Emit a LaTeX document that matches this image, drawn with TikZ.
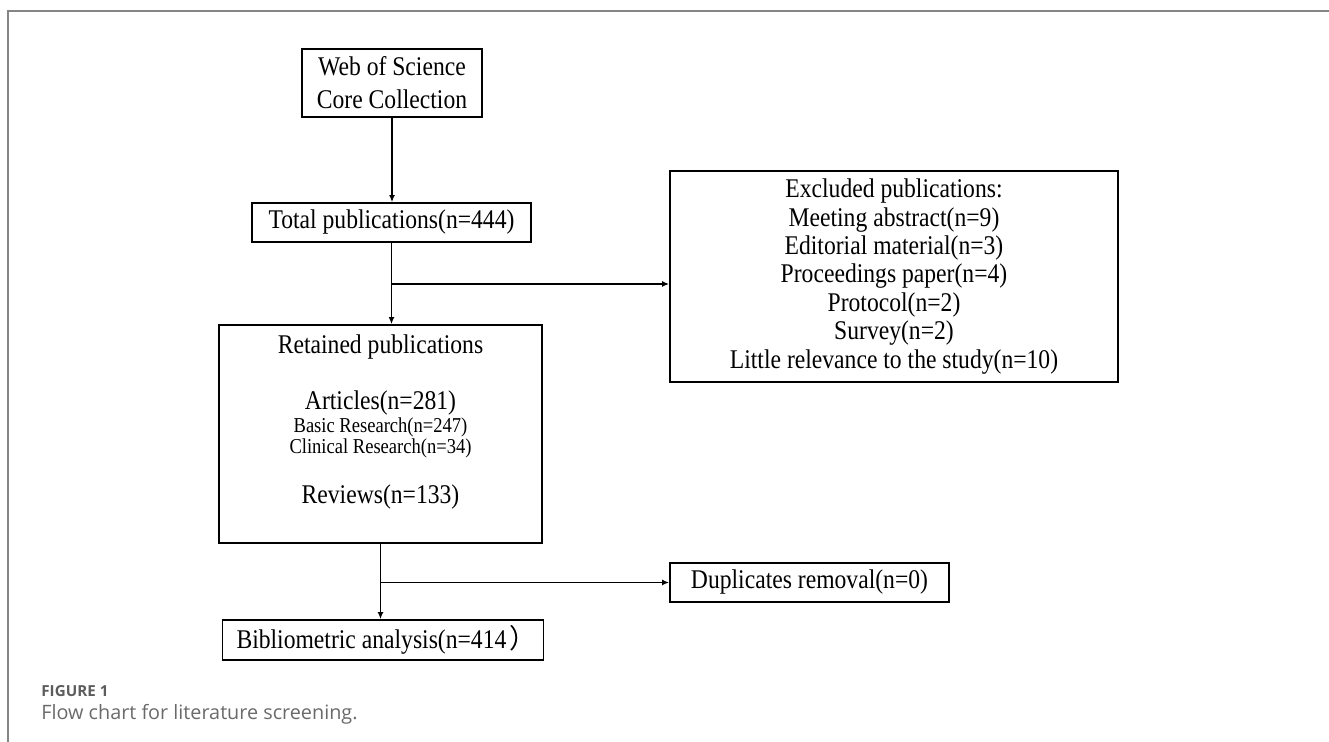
\documentclass[tikz,border=0pt]{standalone}
\usepackage{fontspec}
\usetikzlibrary{arrows.meta,positioning}
\setmainfont{Liberation Serif}[FakeStretch=0.875]
\newfontfamily\capfont{Open Sans}
\newfontfamily\cjk{Noto Sans CJK TC}
\definecolor{capgray}{HTML}{5C5C5C}
\definecolor{captextgray}{HTML}{6A6A6A}
\definecolor{framegray}{HTML}{858585}

\tikzset{
  pubbox/.style={draw, line width=0.9pt, inner sep=0pt, align=center, font=\fontsize{13.5}{14.2}\selectfont},
  pubtext/.style={inner sep=0pt, font=\fontsize{13.5}{14.2}\selectfont},
  subtext/.style={inner sep=0pt, font=\fontsize{10.6}{11}\selectfont},
  captext/.style={anchor=base west, inner sep=0pt},
}

\begin{document}
\begin{tikzpicture}[x=0.5pt, y=-0.5pt]
\useasboundingbox (0,0) rectangle (1329,742);
\draw[framegray, line width=1pt] (7.5,742) -- (7.5,11) -- (1329,11);

\node[pubbox, minimum width=90pt, minimum height=34pt, font=\fontsize{13.5}{16.5}\selectfont] (WS) at (392,83) {Web of Science\\Core Collection};
\node[pubbox, minimum width=139.5pt, minimum height=19.5pt] (TP) at (391.5,222.5) {Total publications(n=444)};
\node[pubbox, minimum width=224pt, minimum height=105.5pt] (EP) at (894,276.5) {Excluded publications:\\Meeting abstract(n=9)\\Editorial material(n=3)\\Proceedings paper(n=4)\\Protocol(n=2)\\Survey(n=2)\\Little relevance to the study(n=10)};
%============
\node[pubbox, minimum width=161.5pt, minimum height=109pt] (RP) at (380.5,434) {};
\node[pubtext] (RT) at (380.5,347) {Retained publications};
\node[pubtext] (RA) at (380.5,403) {Articles(n=281)};
\node[subtext] (RB) at (380.5,427) {Basic Research(n=247)};
\node[subtext] (RC) at (380.5,448) {Clinical Research(n=34)};
\node[pubtext] (RR) at (380.5,497) {Reviews(n=133)};
%============
\node[pubbox, minimum width=139.5pt, minimum height=19.5pt] (DR) at (809.5,582.5) {Duplicates removal(n=0)};
\node[pubbox, inner xsep=7pt, minimum height=20pt] (BA) at (383,640) {\makebox[146.5pt][l]{Bibliometric analysis(n=414{\cjk\kern1.5pt ）}}};

\coordinate (J1) at (TP.south |- 0,284);
\coordinate (J2) at (RP.south |- DR.west);

            \draw[->, line width=0.9pt, >={Latex[length=3.5pt,width=3pt]}] (WS.south) -- (WS.south |- TP.north);
            \draw[->, line width=0.9pt, >={Latex[length=3.5pt,width=3pt]}] (TP.south) -- (TP.south |- RP.north);
            \draw[->, line width=0.9pt, >={Latex[length=3.5pt,width=3pt]}] (J1) -- (J1 -| EP.west);
            \draw[->, line width=0.9pt, >={Latex[length=3.5pt,width=3pt]}] (RP.south) -- (RP.south |- BA.north);
            \draw[->, line width=0.9pt, >={Latex[length=3.5pt,width=3pt]}] (J2) -- (DR.west);

\node[captext, text=capgray, font=\capfont\bfseries\fontsize{7.6}{8}\selectfont] (F1) at (41,697) {FIGURE 1};
\node[captext, text=captextgray, font=\capfont\fontsize{9.9}{11}\selectfont] (FC) at (41,720) {Flow chart for literature screening.};
\end{tikzpicture}
\end{document}
